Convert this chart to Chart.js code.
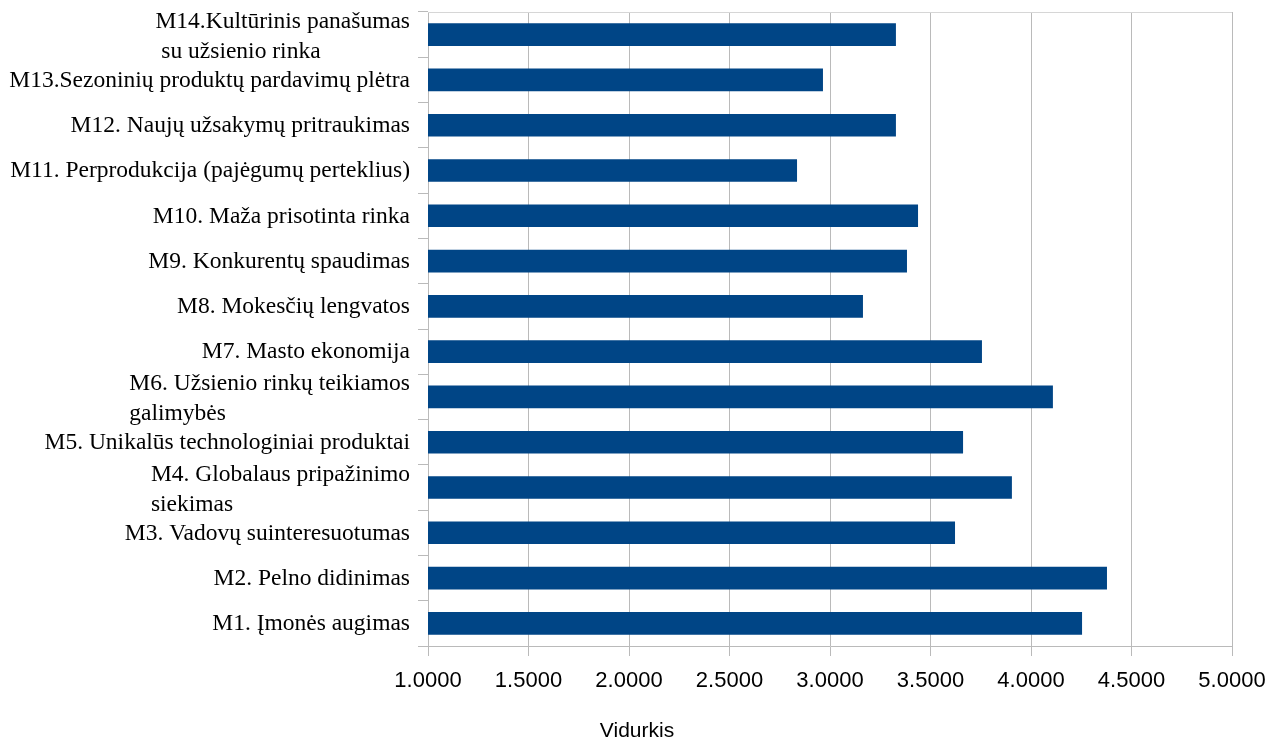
<!DOCTYPE html>
<html>
<head>
<meta charset="utf-8">
<title>Vidurkis</title>
<script src="https://cdn.jsdelivr.net/npm/chart.js@4.4.1/dist/chart.umd.min.js"></script>
<style>
	html, body { margin: 0; padding: 0; background: #fff; }
	#wrap { position: relative; width: 1270px; height: 742px; }
</style>
</head>
<body>
<div id="wrap"><canvas id="canvas"></canvas></div>
<script>
// category labels, bottom (M1) to top (M14); extra entries are wrapped lines
const categories = [
	['M1. Įmonės augimas'],
	['M2. Pelno didinimas'],
	['M3. Vadovų suinteresuotumas'],
	['M4. Globalaus pripažinimo', 'siekimas'],
	['M5. Unikalūs technologiniai produktai'],
	['M6. Užsienio rinkų teikiamos', 'galimybės'],
	['M7. Masto ekonomija'],
	['M8. Mokesčių lengvatos'],
	['M9. Konkurentų spaudimas'],
	['M10. Maža prisotinta rinka'],
	['M11. Perprodukcija (pajėgumų perteklius)'],
	['M12. Naujų užsakymų pritraukimas'],
	['M13.Sezoninių produktų pardavimų plėtra'],
	['M14.Kultūrinis panašumas', ' su užsienio rinka']
];
const averages = [4.254, 4.378, 3.622, 3.905, 3.662, 4.109, 3.756, 3.164, 3.383, 3.438, 2.836, 3.328, 2.965, 3.328];
const xTicks = [1.0, 1.5, 2.0, 2.5, 3.0, 3.5, 4.0, 4.5, 5.0];
const axisTitle = 'Vidurkis';

(() => {
	Chart.defaults.font.family = '"Liberation Sans", Arial, sans-serif';
	Chart.defaults.color = '#000';

	const GRID = '#bababa';
	const LABEL_FONT = '23.5px "Liberation Serif", "Times New Roman", serif';
	const PAD_LEFT = 42;
	const PAD_RIGHT = 38;

	// draws the category names (right aligned, wrapped lines left aligned under the first)
	const categoryLabels = {
		id: 'categoryLabels',
		afterDraw(chart) {
			const { ctx, chartArea } = chart;
			const y = chart.scales.y;
			ctx.save();
			// light frame line on top of the plot
			ctx.strokeStyle = '#d6d6d6';
			ctx.lineWidth = 1;
			ctx.beginPath();
			ctx.moveTo(chartArea.left, chartArea.top + 0.5);
			ctx.lineTo(chartArea.right, chartArea.top + 0.5);
			ctx.stroke();

			ctx.font = LABEL_FONT;
			ctx.fillStyle = '#000';
			ctx.textBaseline = 'alphabetic';
			const right = chartArea.left - 18;
			categories.forEach((lines, i) => {
				const c = y.getPixelForValue(i);
				const left = right - ctx.measureText(lines[0]).width;
				const shift = lines.length > 1 ? 1.5 : 0;
				lines.forEach((line, k) => {
					const base = c + 6.8 + shift + (k - (lines.length - 1) / 2) * 30;
					if (k === 0) {
						ctx.textAlign = 'right';
						ctx.fillText(line, right, base);
					} else {
						ctx.textAlign = 'left';
						ctx.fillText(line, left, base);
					}
				});
			});
			ctx.restore();
		}
	};

	new Chart(document.getElementById('canvas').getContext('2d'), {
		type: 'bar',
		data: {
			labels: categories.map(l => l.join(' ')),
			datasets: [{
				data: averages,
				backgroundColor: '#004586',
				borderWidth: 0,
				barPercentage: 0.5,
				categoryPercentage: 1.0
			}]
		},
		options: {
			indexAxis: 'y',
			responsive: true,
			maintainAspectRatio: false,
			animation: false,
			layout: { padding: { top: 12, right: PAD_RIGHT, left: PAD_LEFT, bottom: 0 } },
			plugins: {
				legend: { display: false },
				tooltip: { enabled: false },
				title: {
					display: true,
					position: 'bottom',
					text: axisTitle,
					font: { size: 21, weight: 'normal', lineHeight: 1 },
					color: '#000',
					padding: { top: 25, bottom: 0 }
				}
			},
			scales: {
				x: {
					type: 'linear',
					min: xTicks[0],
					max: xTicks[xTicks.length - 1],
					afterBuildTicks: (s) => { s.ticks = xTicks.map(v => ({ value: v })); },
					afterFit: (s) => { s.height = 50; s.paddingLeft = 0; s.paddingRight = 0; },
					grid: { color: GRID, tickLength: 10, drawTicks: true },
					border: { color: GRID },
					ticks: {
						font: { size: 22 },
						color: '#000',
						padding: 12,
						maxRotation: 0,
						callback: (v) => Number(v).toFixed(4)
					}
				},
				y: {
					reverse: true,
					afterFit: (s) => { s.width = 428 - PAD_LEFT; },
					grid: { display: true, drawOnChartArea: false, drawTicks: true, tickLength: 10, color: GRID, offset: true },
					border: { color: GRID },
					ticks: { display: false }
				}
			}
		},
		plugins: [categoryLabels]
	});
})();
</script>
</body>
</html>
